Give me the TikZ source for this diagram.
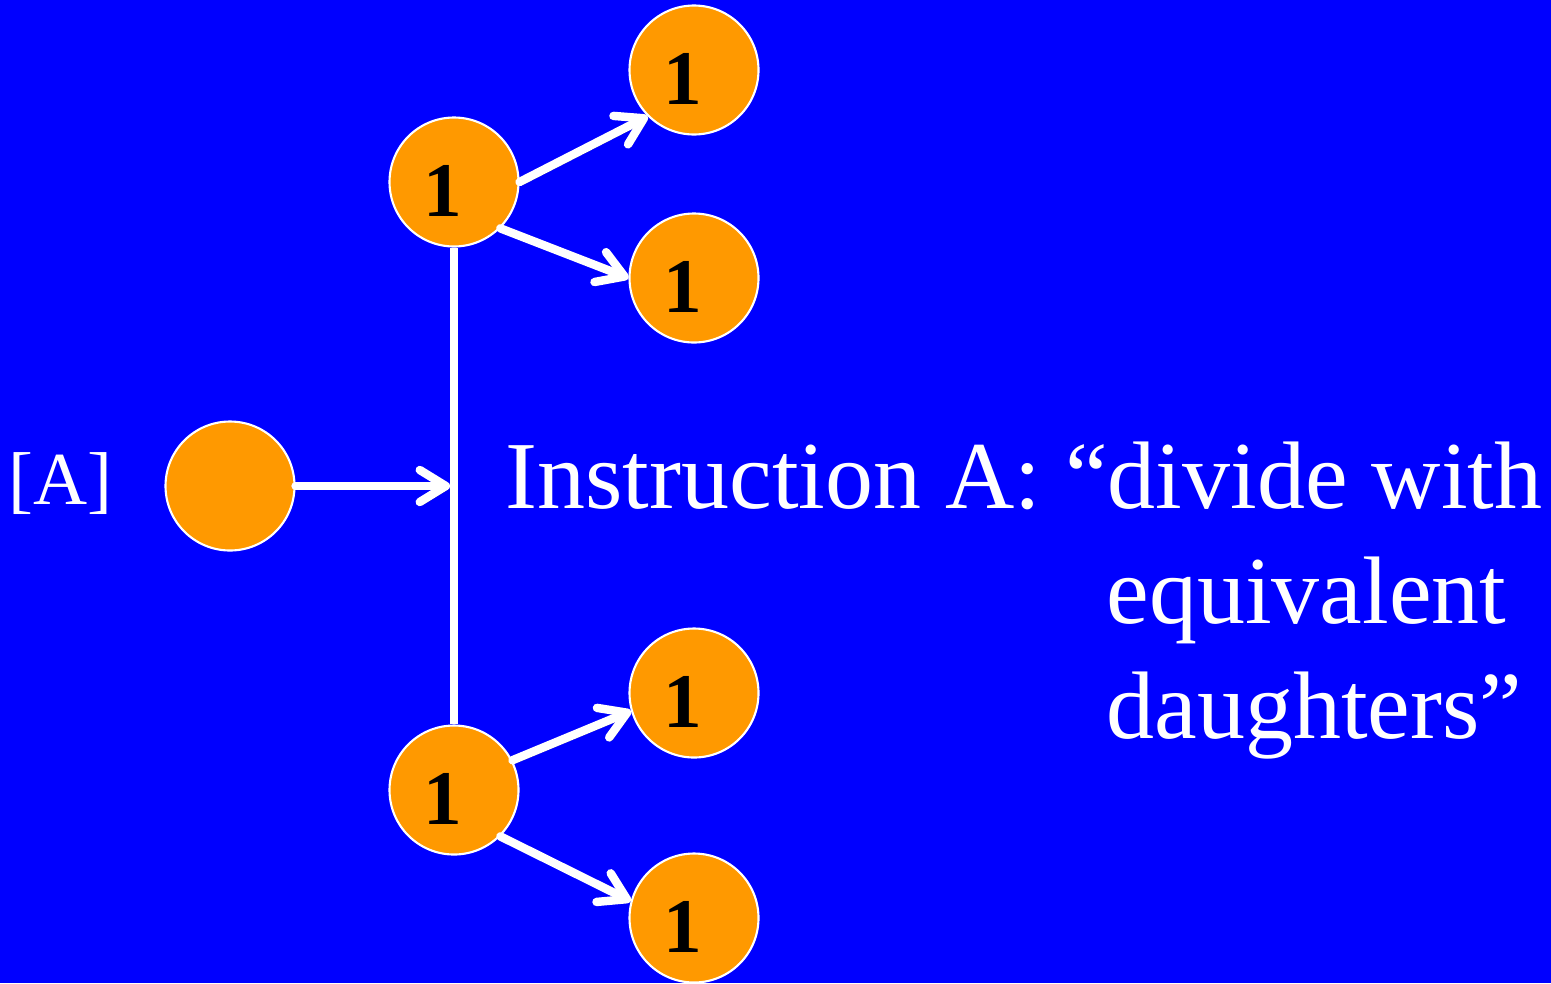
\documentclass[tikz,border=0pt]{standalone}
\usepackage{fontspec}
\setmainfont{Liberation Serif}
\usetikzlibrary{arrows.meta}
\usepackage{xcolor}
\definecolor{slideBlue}{RGB}{0,0,255}
\definecolor{cellOrange}{RGB}{255,153,0}
\definecolor{shadowBlue}{RGB}{0,0,80}

\begin{document}
\begin{tikzpicture}[
    cell/.style={circle, draw=white, line width=0.6pt, fill=cellOrange, minimum size=1.29cm, inner sep=0pt},
    one/.style={cell, label={[font=\fontsize{22}{26}\selectfont\bfseries, xshift=-0.11cm, yshift=-0.09cm]center:1}},
    arr/.style={draw=white, line width=2.4pt, line cap=round, -{Straight Barb[length=2.6mm, width=3.2mm, round]},
        preaction={draw=shadowBlue, transform canvas={xshift=0.6pt, yshift=-0.8pt}}},
    big/.style={text=white, font=\fontsize{27.3}{32}\selectfont, inner sep=0pt, anchor=base west}
]
\fill[slideBlue] (0,0) rectangle (15.51,9.83);
\useasboundingbox (0,0) rectangle (15.51,9.83);

\node[cell] (a) at (2.30,4.97) {};
\node[one] (p1) at (4.54,8.01) {};
\node[one] (p2) at (4.54,1.93) {};
\node[one] (c1) at (6.94,9.13) {};
\node[one] (c2) at (6.94,7.05) {};
\node[one] (c3) at (6.94,2.90) {};
\node[one] (c4) at (6.94,0.65) {};
\coordinate (hit) at (4.50,4.97);

\node[big, font=\fontsize{21.3}{26}\selectfont] (lab) at (0.08,4.79) {[A]};
\node[big] (t1) at (5.05,4.75) {Instruction A: “divide with};
\node[big] (t2) at (11.06,3.60) {equivalent};
\node[big] (t3) at (11.06,2.45) {daughters”};

\draw[white, line width=2.3pt] (p1.south) -- (p2.north);
\draw[arr] (a.east) -- (hit);
\draw[arr] (p1.east) -- (c1.south west);
\draw[arr] (p1.south east) -- (c2.west);
\draw[arr] (p2.27) -- (c3.196);
\draw[arr] (p2.south east) -- (c4.165);
\end{tikzpicture}
\end{document}
